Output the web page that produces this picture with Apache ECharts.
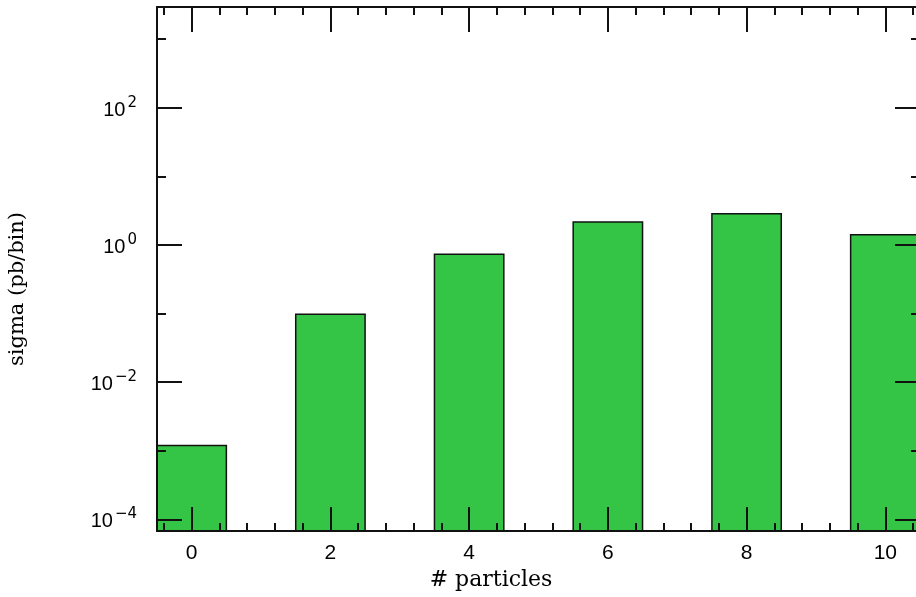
<!DOCTYPE html>
<html>
<head>
<meta charset="utf-8">
<script src="https://cdn.jsdelivr.net/npm/echarts@6/dist/echarts.min.js"></script>
<style>
    html, body { margin: 0; padding: 0; background: #fff; }
    #chart { width: 916px; height: 597px; }
</style>
</head>
<body>
<div id="chart"></div>
<script>
// number of particles (bin centres) and cross section per bin
let particles = [0, 2, 4, 6, 8, 10];
let sigma = [1.19e-3, 0.0975, 0.731, 2.16, 2.86, 1.41];

// tick positions
let xMajorTicks = [0, 2, 4, 6, 8, 10];
let xMinorTicks = [-0.4, 0.4, 0.8, 1.2, 1.6, 2.4, 2.8, 3.2, 3.6, 4.4, 4.8, 5.2, 5.6,
    6.4, 6.8, 7.2, 7.6, 8.4, 8.8, 9.2, 9.6, 10.4];
let yMajorTicks = [1e-4, 1e-2, 1, 1e2];
let yMinorTicks = [1e-3, 1e-1, 10, 1e3];

let xMin = -0.5, xMax = 10.5;
let yMin = Math.pow(10, -4.17), yMax = Math.pow(10, 3.47);
let binHalf = 0.5;

let lineColor = '#111';
let tickFont = '"Liberation Sans", Arial, sans-serif';
let supFont = '"DejaVu Sans", sans-serif';
let titleFont = '"DejaVu Serif", serif';

function xAxisOf(position, ticks, len, withLine, withLabels) {
    return {
        type: 'value',
        position: position,
        min: xMin,
        max: xMax,
        z: 5,
        axisLine: { show: withLine, onZero: false, lineStyle: { color: lineColor, width: 2 } },
        axisTick: {
            show: true, inside: true, length: len, customValues: ticks,
            lineStyle: { color: lineColor, width: 2 }
        },
        axisLabel: withLabels ? {
            show: true, customValues: ticks, margin: 12,
            color: '#000', fontSize: 21, fontFamily: tickFont
        } : { show: false },
        splitLine: { show: false }
    };
}

function yAxisOf(position, ticks, len, withLine, withLabels) {
    let axis = {
        type: 'log',
        logBase: 10,
        position: position,
        min: yMin,
        max: yMax,
        z: 5,
        axisLine: { show: withLine, onZero: false, lineStyle: { color: lineColor, width: 2 } },
        axisTick: {
            show: true, inside: true, length: len, customValues: ticks,
            lineStyle: { color: lineColor, width: 2 }
        },
        axisLabel: { show: false },
        splitLine: { show: false }
    };
    if (withLabels) {
        axis.axisLabel = {
            show: true, customValues: ticks, margin: 20,
            formatter: function (value) {
                let e = Math.round(Math.log10(value));
                return '{b|10}{s|' + String(e).replace('-', '\u2212') + '}';
            },
            rich: {
                b: { fontSize: 20, fontFamily: tickFont, color: '#000', padding: [5, 0, 0, 0] },
                s: { fontSize: 15, fontFamily: supFont, color: '#000', padding: [0, 0, 10, 2] }
            }
        };
    }
    return axis;
}

let chart = echarts.init(document.getElementById('chart'), null, { renderer: 'canvas' });

let option = {
    animation: false,
    backgroundColor: '#fff',
    // the frame runs a few pixels past the right edge of the picture
    grid: { left: 157, top: 7, right: -4, bottom: 66, outerBoundsMode: 'none', containLabel: false },
    xAxis: [
        xAxisOf('bottom', xMajorTicks, 24, true, true),
        xAxisOf('bottom', xMinorTicks, 8, false, false),
        xAxisOf('top', xMajorTicks, 25, true, false),
        xAxisOf('top', xMinorTicks, 8, false, false)
    ],
    yAxis: [
        yAxisOf('left', yMajorTicks, 25, true, true),
        yAxisOf('left', yMinorTicks, 9, false, false),
        yAxisOf('right', yMajorTicks, 25, true, false),
        yAxisOf('right', yMinorTicks, 9, false, false)
    ],
    graphic: [{
        type: 'text',
        x: 491,
        y: 580,
        style: {
            text: '# particles', fontSize: 22, fontFamily: titleFont, fill: '#000',
            textAlign: 'center', textVerticalAlign: 'middle'
        }
    }, {
        type: 'text',
        x: 18,
        y: 289,
        rotation: Math.PI / 2,
        style: {
            text: 'sigma (pb/bin)', fontSize: 21, fontFamily: titleFont, fill: '#000',
            textAlign: 'center', textVerticalAlign: 'middle'
        }
    }],
    series: [{
        type: 'custom',
        xAxisIndex: 0,
        yAxisIndex: 0,
        clip: true,
        data: particles.map(function (p, i) { return [p, sigma[i]]; }),
        renderItem: function (params, api) {
            let x = api.value(0);
            let y = api.value(1);
            let topLeft = api.coord([x - binHalf, y]);
            let bottomRight = api.coord([x + binHalf, yMin]);
            return {
                type: 'rect',
                shape: {
                    x: topLeft[0],
                    y: topLeft[1],
                    width: bottomRight[0] - topLeft[0],
                    height: bottomRight[1] - topLeft[1]
                },
                style: { fill: '#34c446', stroke: lineColor, lineWidth: 1.5 }
            };
        }
    }]
};

chart.setOption(option);
</script>
</body>
</html>
